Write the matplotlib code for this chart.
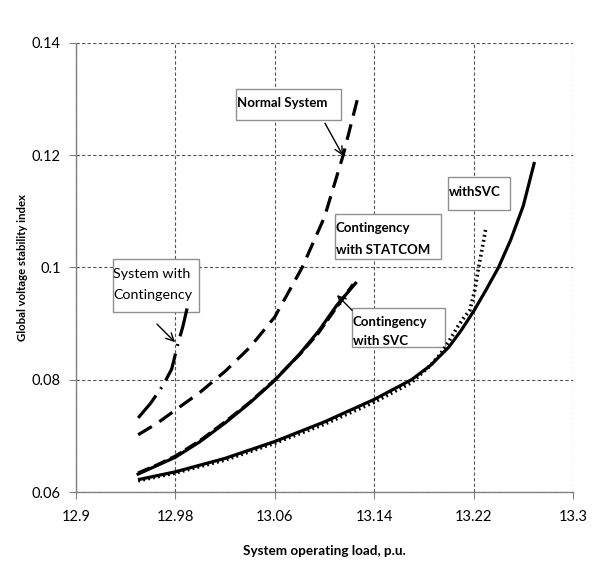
import matplotlib
matplotlib.use("Agg")
import matplotlib.pyplot as plt
from matplotlib.patches import Rectangle

plt.rcParams['font.family'] = ['Lato', 'DejaVu Sans']

# Data
cont_x = [12.950, 12.960, 12.970, 12.977, 12.982, 12.986, 12.990]
cont_y = [0.0732, 0.0758, 0.0790, 0.0819, 0.0864, 0.0895, 0.0933]

normal_x = [12.950, 12.965, 12.980, 13.000, 13.020, 13.040, 13.060, 13.082, 13.100, 13.115, 13.128]
normal_y = [0.0702, 0.0722, 0.0746, 0.0778, 0.0815, 0.0858, 0.0912, 0.1000, 0.1090, 0.1200, 0.1313]

statcom_x = [12.950, 12.965, 12.980, 13.000, 13.020, 13.040, 13.060, 13.080, 13.095, 13.110, 13.123]
statcom_y = [0.0634, 0.0648, 0.0664, 0.0692, 0.0725, 0.0760, 0.0800, 0.0845, 0.0883, 0.0930, 0.0970]

csvc_x = [12.950, 12.965, 12.980, 13.000, 13.020, 13.040, 13.060, 13.080, 13.095, 13.110, 13.125]
csvc_y = [0.0632, 0.0647, 0.0662, 0.0690, 0.0723, 0.0759, 0.0799, 0.0846, 0.0886, 0.0933, 0.0972]

base_x = [12.950, 12.980, 13.020, 13.060, 13.100, 13.140, 13.170, 13.185, 13.200, 13.210, 13.220, 13.230, 13.240, 13.250, 13.260, 13.269]
base_y = [0.0622, 0.0636, 0.0660, 0.0690, 0.0725, 0.0765, 0.0800, 0.0825, 0.0858, 0.0888, 0.0922, 0.0960, 0.1000, 0.1050, 0.1110, 0.1188]

svc_x = [12.950, 12.980, 13.020, 13.060, 13.100, 13.140, 13.170, 13.185, 13.193, 13.200, 13.207, 13.212, 13.217, 13.221, 13.224, 13.227, 13.230]
svc_y = [0.0620, 0.0634, 0.0657, 0.0687, 0.0721, 0.0760, 0.0795, 0.0825, 0.0845, 0.0868, 0.0894, 0.0910, 0.0924, 0.0960, 0.1000, 0.1035, 0.1072]

x_ticks = [12.9, 12.98, 13.06, 13.14, 13.22, 13.3]
x_ticklabels = ["12.9", "12.98", "13.06", "13.14", "13.22", "13.3"]
y_ticks = [0.06, 0.08, 0.1, 0.12, 0.14]
y_ticklabels = ["0.06", "0.08", "0.1", "0.12", "0.14"]

fig = plt.figure(figsize=(6.0, 5.65), dpi=100)
ax = fig.add_axes([0.1267, 0.1292, 0.8283, 0.7947])

ax.set_xlim(12.9, 13.3)
ax.set_ylim(0.06, 0.14)
ax.set_xticks(x_ticks)
ax.set_xticklabels(x_ticklabels)
ax.set_yticks(y_ticks)
ax.set_yticklabels(y_ticklabels)

ax.grid(True, color='#555555', linestyle=(0, (3, 2)), linewidth=0.8)
ax.set_axisbelow(True)
for s in ['top', 'right']:
    ax.spines[s].set_visible(False)
for s in ['left', 'bottom']:
    ax.spines[s].set_color('#808080')
    ax.spines[s].set_linewidth(1.0)
ax.tick_params(axis='both', direction='out', length=5, color='#808080', labelsize=10.5, pad=6)
ax.tick_params(axis='x', pad=8)

lw = 2.3
ax.plot(base_x, base_y, color='black', linewidth=lw, solid_capstyle='butt', zorder=6)
ax.plot(svc_x, svc_y, color='black', linewidth=2.6, linestyle=(0, (0.5, 0.9)), dash_capstyle='butt', zorder=6)
ax.plot(csvc_x, csvc_y, color='black', linewidth=lw, zorder=6)
ax.plot(statcom_x, statcom_y, color='black', linewidth=lw, linestyle=(0, (4, 1.5)), zorder=6)
ax.plot(normal_x, normal_y, color='black', linewidth=lw, linestyle=(0, (5, 2.8)), zorder=6)
ax.plot(cont_x, cont_y, color='black', linewidth=lw, linestyle=(0, (9, 2.5, 0.6, 2.5)), zorder=6)

ax.set_xlabel("System operating load, p.u.", fontsize=9.7, fontweight='bold', labelpad=15)
ax.set_ylabel("Global voltage stability index", fontsize=8.2, fontweight='bold', labelpad=3)

edge = '#909090'

def add_box(x0, y0, x1, y1):
    ax.add_patch(Rectangle((x0, y0), x1 - x0, y1 - y0, facecolor='white',
                           edgecolor=edge, linewidth=1.0, zorder=4))

arrow = dict(arrowstyle='->', color='black', linewidth=1.0, mutation_scale=14, shrinkA=0, shrinkB=0)

# System with Contingency
add_box(12.9298, 0.0921, 12.9990, 0.1015)
ax.text(12.9300, 0.0988, "System with", fontsize=10.3, va='center', ha='left', zorder=5)
ax.text(12.9300, 0.0951, "Contingency", fontsize=10.3, va='center', ha='left', zorder=5)
ax.annotate("", xy=(12.9797, 0.0867), xytext=(12.9652, 0.0899), arrowprops=arrow, zorder=5)

# Normal System
add_box(13.0288, 0.1263, 13.1133, 0.1318)
ax.text(13.0292, 0.1293, "Normal System", fontsize=9.5, fontweight='bold', va='center', ha='left', zorder=5)
ax.annotate("", xy=(13.1149, 0.1199), xytext=(13.1004, 0.1257), arrowprops=arrow, zorder=5)

# Contingency with STATCOM
add_box(13.1084, 0.1015, 13.1938, 0.1095)
ax.text(13.1090, 0.1070, "Contingency", fontsize=9.5, fontweight='bold', va='center', ha='left', zorder=5)
ax.text(13.1090, 0.1031, "with STATCOM", fontsize=9.5, fontweight='bold', va='center', ha='left', zorder=5)

# Contingency with SVC
add_box(13.1221, 0.0858, 13.1970, 0.0928)
ax.text(13.1228, 0.0903, "Contingency", fontsize=9.5, fontweight='bold', va='center', ha='left', zorder=5)
ax.text(13.1228, 0.0869, "with SVC", fontsize=9.5, fontweight='bold', va='center', ha='left', zorder=5)
ax.annotate("", xy=(13.1100, 0.0951), xytext=(13.1221, 0.0924), arrowprops=arrow, zorder=5)

# withSVC
add_box(13.1994, 0.1102, 13.2493, 0.1161)
ax.text(13.1998, 0.1134, "withSVC", fontsize=9.5, fontweight='bold', va='center', ha='left', zorder=5)

fig.savefig("out.png", dpi=100)
